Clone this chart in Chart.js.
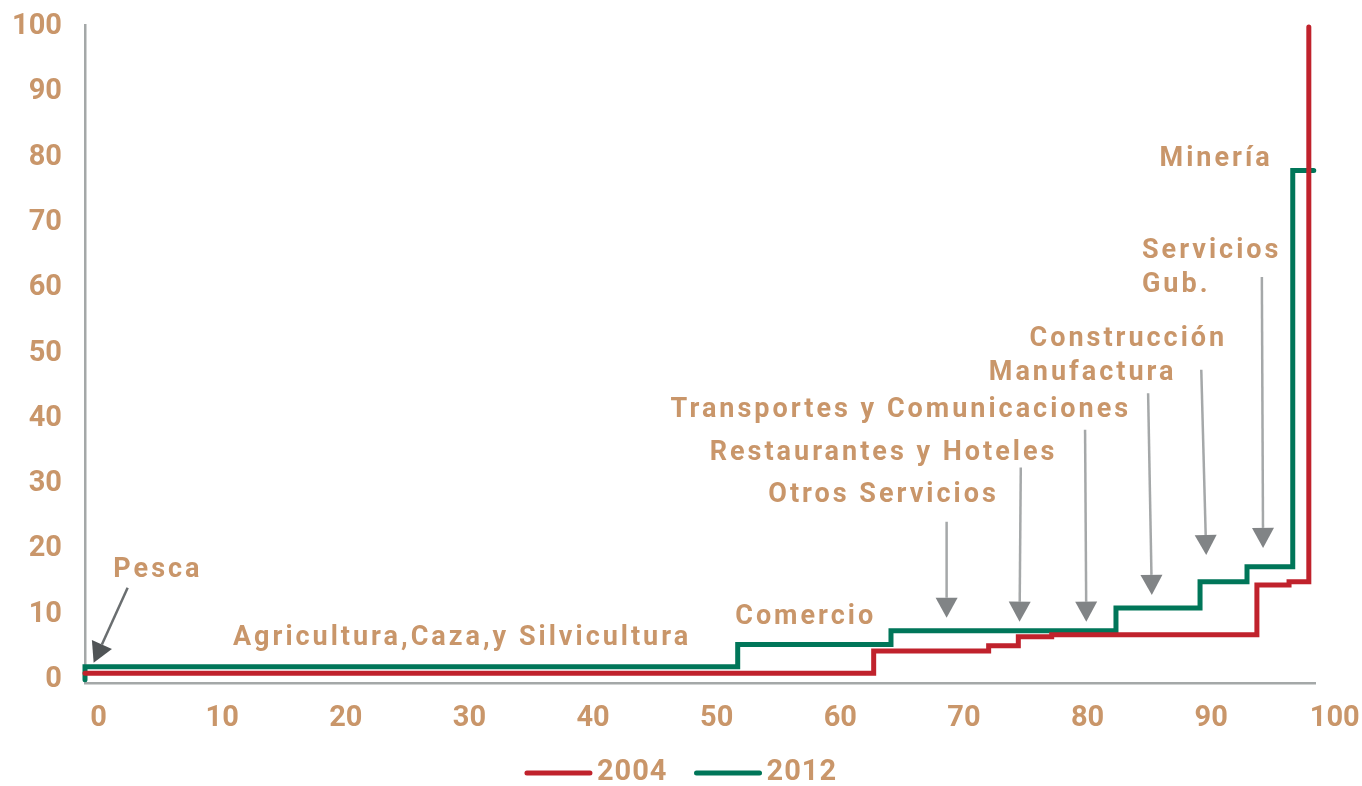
<!DOCTYPE html>
<html>
<head>
<meta charset="utf-8">
<script src="https://cdn.jsdelivr.net/npm/chart.js@4.4.1/dist/chart.umd.min.js"></script>
<style>
  body { margin: 0; background: #ffffff; }
  #wrap { width: 1362px; height: 786px; }
</style>
</head>
<body>
<div id="wrap"><canvas id="myChart"></canvas></div>
<script>
// AXIS TICKS
const xTicks = [0, 10, 20, 30, 40, 50, 60, 70, 80, 90, 100];
const yTicks = [0, 10, 20, 30, 40, 50, 60, 70, 80, 90, 100];

// SERIES (step corners: level y starts at x)
const seriesNames = ["2004", "2012"];
const x2004 = [-1.1, 62.7, 72.0, 74.4, 77.1, 93.7, 96.3, 97.9];
const y2004 = [1.0, 4.4, 5.2, 6.6, 6.9, 14.5, 15.0, 100];
const x2012 = [-1.1, -1.1, 51.7, 64.1, 82.3, 89.1, 92.9, 96.6, 98.3];
const y2012 = [0, 2.0, 5.4, 7.5, 11.0, 15.0, 17.3, 78, 78];

// SECTOR LABELS
const sectorNames = ["Pesca", "Agricultura,Caza,y Silvicultura", "Comercio", "Otros Servicios",
  "Restaurantes y Hoteles", "Transportes y Comunicaciones", "Manufactura", "Construcción",
  "Servicios", "Gub.", "Minería"];

const textColor = "#C9966A";
const red = "#C0222C";
const green = "#007659";
const axisGray = "#A4A8A8";

// label placement in data units
const notes = [
  { x: 4.8, y: 16.8 }, { x: 29.4, y: 6.3 }, { x: 57.2, y: 9.6 }, { x: 63.5, y: 28.2 },
  { x: 63.5, y: 34.7 }, { x: 64.9, y: 41.3 }, { x: 79.6, y: 46.9 }, { x: 83.3, y: 52.1 },
  { x: 84.4, y: 65.6, align: "left" }, { x: 84.4, y: 60.4, align: "left" }, { x: 90.4, y: 79.8 }
];
const arrows = [
  { from: [2.35, 14.1], to: [-0.4, 2.6], dark: true },
  { from: [68.6, 24.2], to: [68.6, 9.5] },
  { from: [74.6, 32.5], to: [74.5, 8.9] },
  { from: [79.8, 38.3], to: [79.9, 8.9] },
  { from: [84.9, 43.9], to: [85.2, 13.0] },
  { from: [89.2, 47.5], to: [89.6, 19.1] },
  { from: [94.1, 61.7], to: [94.2, 20.2] }
];

const FONT = "Roboto, 'Open Sans', sans-serif";

const toPoints = (xs, ys) => xs.map((v, i) => ({ x: v, y: ys[i] }));

const notesPlugin = {
  id: "notes",
  afterDraw(chart) {
    const ctx = chart.ctx;
    const sx = chart.scales.x, sy = chart.scales.y;
    ctx.save();
    // ARROWS
    arrows.forEach(a => {
      const x1 = sx.getPixelForValue(a.from[0]), y1 = sy.getPixelForValue(a.from[1]);
      const x2 = sx.getPixelForValue(a.to[0]), y2 = sy.getPixelForValue(a.to[1]);
      const len = Math.hypot(x2 - x1, y2 - y1);
      const ux = (x2 - x1) / len, uy = (y2 - y1) / len;
      const head = 20, half = 11;
      const bx = x2 - ux * head, by = y2 - uy * head;
      ctx.strokeStyle = a.dark ? "#6A6E70" : "#A5A8A9";
      ctx.lineWidth = 2.5;
      ctx.beginPath();
      ctx.moveTo(x1, y1);
      ctx.lineTo(bx, by);
      ctx.stroke();
      ctx.fillStyle = a.dark ? "#505456" : "#818486";
      ctx.beginPath();
      ctx.moveTo(x2, y2);
      ctx.lineTo(bx - uy * half, by + ux * half);
      ctx.lineTo(bx + uy * half, by - ux * half);
      ctx.closePath();
      ctx.fill();
    });
    // TEXT LABELS
    ctx.font = "bold 27px " + FONT;
    ctx.letterSpacing = "3px";
    ctx.fillStyle = textColor;
    ctx.textBaseline = "middle";
    notes.forEach((n, i) => {
      ctx.textAlign = n.align || "center";
      ctx.fillText(sectorNames[i], sx.getPixelForValue(n.x), sy.getPixelForValue(n.y));
    });
    // LEGEND
    ctx.font = "bold 29px " + FONT;
    ctx.letterSpacing = "1px";
    ctx.textAlign = "left";
    const seg = 67, gapText = 5, gapItem = 27, ly = 773;
    const widths = chart.data.datasets.map(d => seg + gapText + ctx.measureText(d.label).width);
    const total = widths.reduce((s, w) => s + w, 0) + gapItem * (widths.length - 1);
    let lx = chart.width / 2 - total / 2;
    chart.data.datasets.forEach((d, i) => {
      ctx.strokeStyle = d.borderColor;
      ctx.lineWidth = 5;
      ctx.lineCap = "round";
      ctx.beginPath();
      ctx.moveTo(lx + 2, ly);
      ctx.lineTo(lx + seg - 2, ly);
      ctx.stroke();
      ctx.fillStyle = textColor;
      ctx.fillText(d.label, lx + seg + gapText, ly);
      lx += widths[i] + gapItem;
    });
    ctx.restore();
  }
};

const ctxEl = document.getElementById("myChart");
const chart = new Chart(ctxEl, {
  type: "line",
  data: {
    datasets: [
      {
        label: seriesNames[0],
        data: toPoints(x2004, y2004),
        borderColor: red,
        backgroundColor: red,
        borderWidth: 5,
        stepped: "before",
        pointRadius: 0,
        borderCapStyle: "round",
        clip: false
      },
      {
        label: seriesNames[1],
        data: toPoints(x2012, y2012),
        borderColor: green,
        backgroundColor: green,
        borderWidth: 5,
        stepped: "before",
        pointRadius: 0,
        borderCapStyle: "round",
        clip: false
      }
    ]
  },
  options: {
    responsive: true,
    maintainAspectRatio: false,
    animation: false,
    layout: { padding: { top: 25, right: 47, left: 0, bottom: 0 } },
    plugins: {
      legend: { display: false },
      tooltip: { enabled: false }
    },
    scales: {
      x: {
        type: "linear",
        min: -1.1,
        max: 98.4,
        afterBuildTicks: s => { s.ticks = xTicks.map(v => ({ value: v })); },
        // fixed height, no extra side padding from the "100" label
        afterFit: s => { s.height = 103; s.paddingLeft = 0; s.paddingRight = 0; },
        grid: { display: false, drawTicks: false },
        border: { display: true, color: axisGray, width: 2.5 },
        ticks: {
          autoSkip: false,
          maxRotation: 0,
          padding: 18,
          color: textColor,
          font: { family: FONT, size: 29, weight: "bold" }
        }
      },
      y: {
        min: -0.5,
        max: 100.3,
        afterBuildTicks: s => { s.ticks = yTicks.map(v => ({ value: v })); },
        afterFit: s => { s.width = 85; s.paddingTop = 0; s.paddingBottom = 0; },
        grid: { display: false, drawTicks: false },
        border: { display: true, color: axisGray, width: 2.5 },
        ticks: {
          padding: 23,
          color: textColor,
          font: { family: FONT, size: 29, weight: "bold" }
        }
      }
    }
  },
  plugins: [notesPlugin]
});
</script>
</body>
</html>
